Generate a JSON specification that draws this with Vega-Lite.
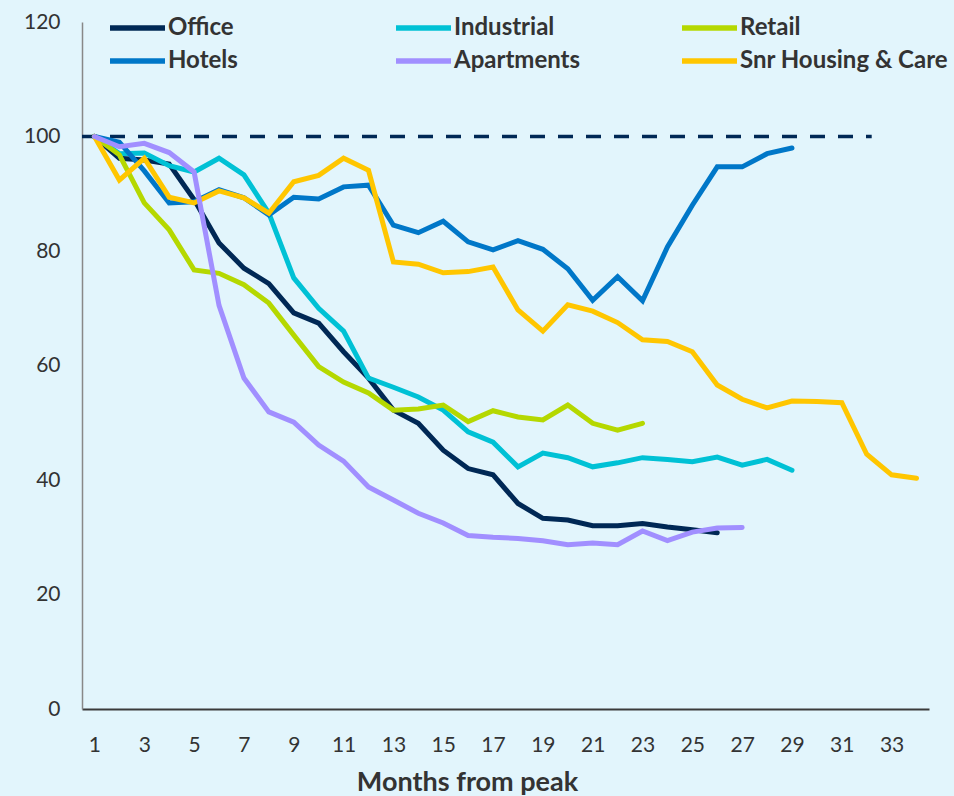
{
  "$schema": "https://vega.github.io/schema/vega-lite/v6.json",
  "width": 847,
  "height": 687,
  "autosize": {"type": "none"},
  "padding": {"left": 82, "top": 22, "right": 25, "bottom": 87},
  "background": "#e2f5fc",
  "config": {
    "view": {"stroke": null, "fill": "#e2f5fc"},
    "font": "Lato",
    "axis": {"labelFont": "Lato", "titleFont": "Lato", "labelColor": "#333333", "titleColor": "#333333", "grid": false, "ticks": false}
  },
  "datasets": {
    "series": [
      {"s": "Office", "m": 1, "v": 100}, {"s": "Office", "m": 2, "v": 96.2}, {"s": "Office", "m": 3, "v": 95.9}, {"s": "Office", "m": 4, "v": 95.2}, {"s": "Office", "m": 5, "v": 89}, {"s": "Office", "m": 6, "v": 81.4}, {"s": "Office", "m": 7, "v": 77}, {"s": "Office", "m": 8, "v": 74.3}, {"s": "Office", "m": 9, "v": 69.2}, {"s": "Office", "m": 10, "v": 67.4}, {"s": "Office", "m": 11, "v": 62.4}, {"s": "Office", "m": 12, "v": 57.8}, {"s": "Office", "m": 13, "v": 52.2}, {"s": "Office", "m": 14, "v": 49.9}, {"s": "Office", "m": 15, "v": 45.2}, {"s": "Office", "m": 16, "v": 42}, {"s": "Office", "m": 17, "v": 40.9}, {"s": "Office", "m": 18, "v": 35.9}, {"s": "Office", "m": 19, "v": 33.3}, {"s": "Office", "m": 20, "v": 33}, {"s": "Office", "m": 21, "v": 32}, {"s": "Office", "m": 22, "v": 32}, {"s": "Office", "m": 23, "v": 32.4}, {"s": "Office", "m": 24, "v": 31.8}, {"s": "Office", "m": 25, "v": 31.3}, {"s": "Office", "m": 26, "v": 30.8},
      {"s": "Industrial", "m": 1, "v": 100}, {"s": "Industrial", "m": 2, "v": 97}, {"s": "Industrial", "m": 3, "v": 97.1}, {"s": "Industrial", "m": 4, "v": 94.9}, {"s": "Industrial", "m": 5, "v": 93.8}, {"s": "Industrial", "m": 6, "v": 96.2}, {"s": "Industrial", "m": 7, "v": 93.3}, {"s": "Industrial", "m": 8, "v": 86.6}, {"s": "Industrial", "m": 9, "v": 75.3}, {"s": "Industrial", "m": 10, "v": 70}, {"s": "Industrial", "m": 11, "v": 66}, {"s": "Industrial", "m": 12, "v": 57.8}, {"s": "Industrial", "m": 13, "v": 56.2}, {"s": "Industrial", "m": 14, "v": 54.5}, {"s": "Industrial", "m": 15, "v": 52.2}, {"s": "Industrial", "m": 16, "v": 48.4}, {"s": "Industrial", "m": 17, "v": 46.6}, {"s": "Industrial", "m": 18, "v": 42.3}, {"s": "Industrial", "m": 19, "v": 44.7}, {"s": "Industrial", "m": 20, "v": 43.9}, {"s": "Industrial", "m": 21, "v": 42.3}, {"s": "Industrial", "m": 22, "v": 43}, {"s": "Industrial", "m": 23, "v": 43.9}, {"s": "Industrial", "m": 24, "v": 43.6}, {"s": "Industrial", "m": 25, "v": 43.2}, {"s": "Industrial", "m": 26, "v": 44}, {"s": "Industrial", "m": 27, "v": 42.6}, {"s": "Industrial", "m": 28, "v": 43.6}, {"s": "Industrial", "m": 29, "v": 41.7},
      {"s": "Retail", "m": 1, "v": 100}, {"s": "Retail", "m": 2, "v": 96.8}, {"s": "Retail", "m": 3, "v": 88.4}, {"s": "Retail", "m": 4, "v": 83.7}, {"s": "Retail", "m": 5, "v": 76.7}, {"s": "Retail", "m": 6, "v": 76.1}, {"s": "Retail", "m": 7, "v": 74.1}, {"s": "Retail", "m": 8, "v": 70.9}, {"s": "Retail", "m": 9, "v": 65.3}, {"s": "Retail", "m": 10, "v": 59.8}, {"s": "Retail", "m": 11, "v": 57.1}, {"s": "Retail", "m": 12, "v": 55.2}, {"s": "Retail", "m": 13, "v": 52.2}, {"s": "Retail", "m": 14, "v": 52.4}, {"s": "Retail", "m": 15, "v": 53.1}, {"s": "Retail", "m": 16, "v": 50.2}, {"s": "Retail", "m": 17, "v": 52.1}, {"s": "Retail", "m": 18, "v": 51}, {"s": "Retail", "m": 19, "v": 50.5}, {"s": "Retail", "m": 20, "v": 53.1}, {"s": "Retail", "m": 21, "v": 49.9}, {"s": "Retail", "m": 22, "v": 48.7}, {"s": "Retail", "m": 23, "v": 49.9},
      {"s": "Hotels", "m": 1, "v": 100}, {"s": "Hotels", "m": 2, "v": 99}, {"s": "Hotels", "m": 3, "v": 94}, {"s": "Hotels", "m": 4, "v": 88.4}, {"s": "Hotels", "m": 5, "v": 88.6}, {"s": "Hotels", "m": 6, "v": 90.7}, {"s": "Hotels", "m": 7, "v": 89.3}, {"s": "Hotels", "m": 8, "v": 86.3}, {"s": "Hotels", "m": 9, "v": 89.4}, {"s": "Hotels", "m": 10, "v": 89.1}, {"s": "Hotels", "m": 11, "v": 91.2}, {"s": "Hotels", "m": 12, "v": 91.5}, {"s": "Hotels", "m": 13, "v": 84.5}, {"s": "Hotels", "m": 14, "v": 83.2}, {"s": "Hotels", "m": 15, "v": 85.2}, {"s": "Hotels", "m": 16, "v": 81.6}, {"s": "Hotels", "m": 17, "v": 80.2}, {"s": "Hotels", "m": 18, "v": 81.8}, {"s": "Hotels", "m": 19, "v": 80.3}, {"s": "Hotels", "m": 20, "v": 76.9}, {"s": "Hotels", "m": 21, "v": 71.4}, {"s": "Hotels", "m": 22, "v": 75.5}, {"s": "Hotels", "m": 23, "v": 71.3}, {"s": "Hotels", "m": 24, "v": 80.7}, {"s": "Hotels", "m": 25, "v": 88}, {"s": "Hotels", "m": 26, "v": 94.7}, {"s": "Hotels", "m": 27, "v": 94.7}, {"s": "Hotels", "m": 28, "v": 97}, {"s": "Hotels", "m": 29, "v": 98},
      {"s": "Snr Housing & Care", "m": 1, "v": 100}, {"s": "Snr Housing & Care", "m": 2, "v": 92.4}, {"s": "Snr Housing & Care", "m": 3, "v": 96.2}, {"s": "Snr Housing & Care", "m": 4, "v": 89.4}, {"s": "Snr Housing & Care", "m": 5, "v": 88.4}, {"s": "Snr Housing & Care", "m": 6, "v": 90.5}, {"s": "Snr Housing & Care", "m": 7, "v": 89.3}, {"s": "Snr Housing & Care", "m": 8, "v": 86.6}, {"s": "Snr Housing & Care", "m": 9, "v": 92.1}, {"s": "Snr Housing & Care", "m": 10, "v": 93.2}, {"s": "Snr Housing & Care", "m": 11, "v": 96.2}, {"s": "Snr Housing & Care", "m": 12, "v": 94.1}, {"s": "Snr Housing & Care", "m": 13, "v": 78.1}, {"s": "Snr Housing & Care", "m": 14, "v": 77.7}, {"s": "Snr Housing & Care", "m": 15, "v": 76.2}, {"s": "Snr Housing & Care", "m": 16, "v": 76.4}, {"s": "Snr Housing & Care", "m": 17, "v": 77.2}, {"s": "Snr Housing & Care", "m": 18, "v": 69.7}, {"s": "Snr Housing & Care", "m": 19, "v": 66}, {"s": "Snr Housing & Care", "m": 20, "v": 70.6}, {"s": "Snr Housing & Care", "m": 21, "v": 69.5}, {"s": "Snr Housing & Care", "m": 22, "v": 67.5}, {"s": "Snr Housing & Care", "m": 23, "v": 64.5}, {"s": "Snr Housing & Care", "m": 24, "v": 64.2}, {"s": "Snr Housing & Care", "m": 25, "v": 62.4}, {"s": "Snr Housing & Care", "m": 26, "v": 56.6}, {"s": "Snr Housing & Care", "m": 27, "v": 54.1}, {"s": "Snr Housing & Care", "m": 28, "v": 52.6}, {"s": "Snr Housing & Care", "m": 29, "v": 53.8}, {"s": "Snr Housing & Care", "m": 30, "v": 53.7}, {"s": "Snr Housing & Care", "m": 31, "v": 53.5}, {"s": "Snr Housing & Care", "m": 32, "v": 44.5}, {"s": "Snr Housing & Care", "m": 33, "v": 40.9}, {"s": "Snr Housing & Care", "m": 34, "v": 40.3},
      {"s": "Apartments", "m": 1, "v": 100}, {"s": "Apartments", "m": 2, "v": 98.2}, {"s": "Apartments", "m": 3, "v": 98.8}, {"s": "Apartments", "m": 4, "v": 97.2}, {"s": "Apartments", "m": 5, "v": 93.8}, {"s": "Apartments", "m": 6, "v": 70.5}, {"s": "Apartments", "m": 7, "v": 57.8}, {"s": "Apartments", "m": 8, "v": 51.9}, {"s": "Apartments", "m": 9, "v": 50.1}, {"s": "Apartments", "m": 10, "v": 46.1}, {"s": "Apartments", "m": 11, "v": 43.3}, {"s": "Apartments", "m": 12, "v": 38.8}, {"s": "Apartments", "m": 13, "v": 36.5}, {"s": "Apartments", "m": 14, "v": 34.2}, {"s": "Apartments", "m": 15, "v": 32.5}, {"s": "Apartments", "m": 16, "v": 30.3}, {"s": "Apartments", "m": 17, "v": 30}, {"s": "Apartments", "m": 18, "v": 29.8}, {"s": "Apartments", "m": 19, "v": 29.4}, {"s": "Apartments", "m": 20, "v": 28.7}, {"s": "Apartments", "m": 21, "v": 29}, {"s": "Apartments", "m": 22, "v": 28.7}, {"s": "Apartments", "m": 23, "v": 31.1}, {"s": "Apartments", "m": 24, "v": 29.4}, {"s": "Apartments", "m": 25, "v": 30.9}, {"s": "Apartments", "m": 26, "v": 31.6}, {"s": "Apartments", "m": 27, "v": 31.7}
    ],
    "baseline": [{"m": 0.5, "v": 100}, {"m": 32.2, "v": 100}]
  },
  "layer": [
    {
      "data": {"name": "baseline"},
      "mark": {"type": "line", "color": "#002855", "strokeWidth": 3.5, "strokeDash": [15, 13]},
      "encoding": {
        "x": {"field": "m", "type": "quantitative", "scale": {"domain": [0.5, 34.5], "nice": false, "zero": false}},
        "y": {"field": "v", "type": "quantitative", "scale": {"domain": [0, 120], "nice": false}}
      }
    },
    {
      "data": {"name": "series"},
      "mark": {"type": "line", "strokeWidth": 5, "strokeCap": "round", "strokeJoin": "miter"},
      "encoding": {
        "x": {
          "field": "m", "type": "quantitative",
          "scale": {"domain": [0.5, 34.5], "nice": false, "zero": false},
          "axis": {
            "title": "Months from peak", "values": [1, 3, 5, 7, 9, 11, 13, 15, 17, 19, 21, 23, 25, 27, 29, 31, 33],
            "labelFontSize": 21, "labelPadding": 25, "titleFontSize": 27, "titleFontWeight": "bold", "titlePadding": 14,
            "titleX": 385, "titleAlign": "center", "titleAnchor": "start",
            "domainColor": "#3a3a3a", "domainWidth": 2
          }
        },
        "y": {
          "field": "v", "type": "quantitative",
          "scale": {"domain": [0, 120], "nice": false},
          "axis": {
            "title": null, "values": [0, 20, 40, 60, 80, 100, 120], "labelFontSize": 21, "labelPadding": 22,
            "domainColor": "#888888", "domainWidth": 1.5
          }
        },
        "color": {
          "field": "s", "type": "nominal",
          "scale": {
            "domain": ["Office", "Industrial", "Retail", "Hotels", "Apartments", "Snr Housing & Care"],
            "range": ["#002855", "#00c1d5", "#b5d800", "#0077c8", "#a18fff", "#ffc600"]
          },
          "legend": {
            "title": null, "orient": "none", "legendX": 25, "legendY": -7, "columns": 3, "direction": "horizontal", "gridAlign": "all",
            "columnPadding": 8, "rowPadding": 8, "padding": 0,
            "symbolType": "M-1,0L4.5,0", "symbolSize": 400, "symbolStrokeWidth": 5.5, "labelOffset": 35,
            "labelFontSize": 24, "labelFontWeight": "bold", "labelColor": "#333333", "labelLimit": 300
          }
        }
      }
    }
  ]
}
